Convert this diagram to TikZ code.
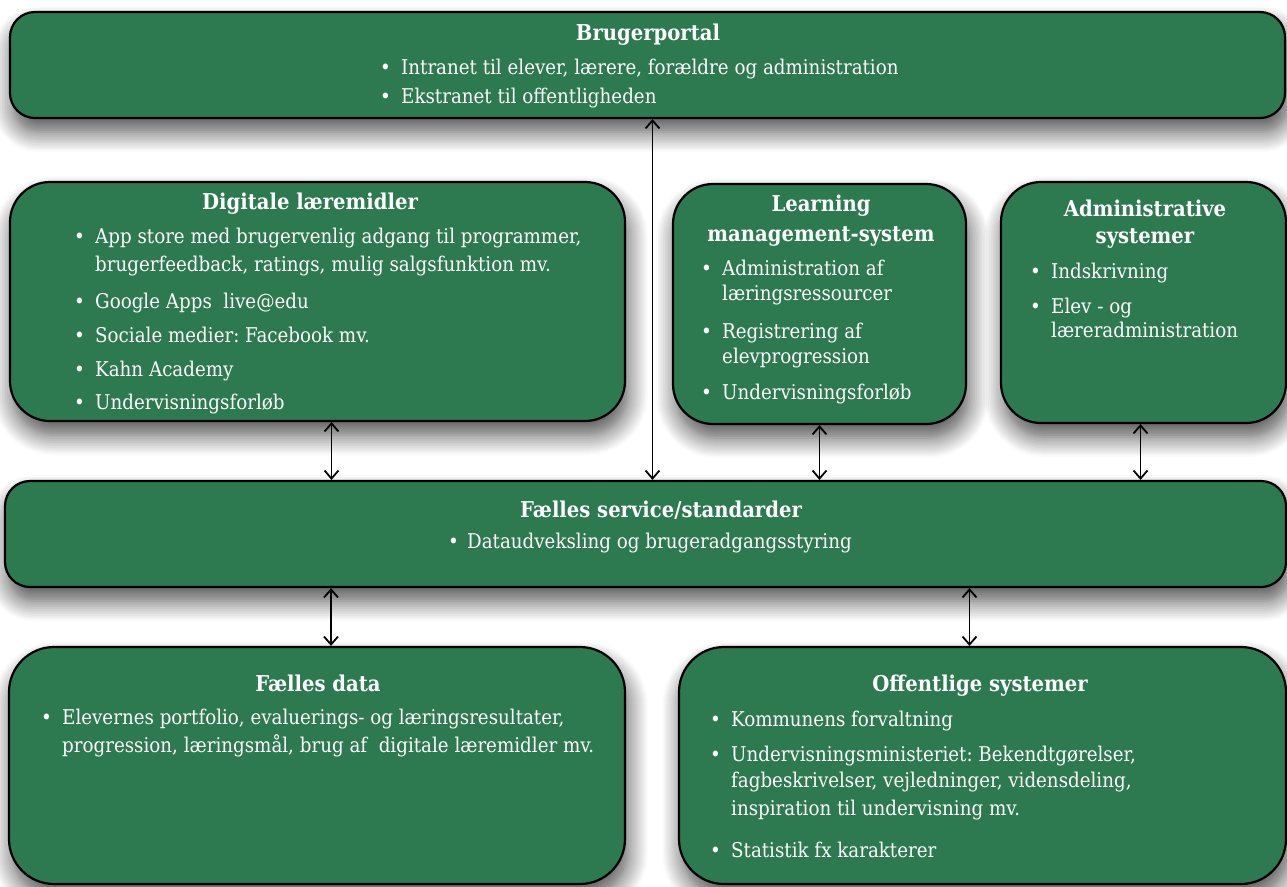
\documentclass[tikz,border=0pt]{standalone}
\usepackage{fontspec}
\setmainfont{DejaVu Serif Condensed}
\usetikzlibrary{fit,shadows.blur,arrows.meta}
\frenchspacing

\definecolor{boksgroen}{RGB}{46,122,80}
\newcommand\pkt{\makebox[21pt][l]{\textbullet}}
\newcommand\fort{\hspace*{21pt}}

\tikzset{
  boks/.style={draw=black, line width=2.2pt, fill=boksgroen, inner sep=0pt,
    rounded corners=40pt,
    blur shadow={shadow xshift=3pt, shadow yshift=-14pt, shadow blur radius=20pt,
      shadow blur steps=12, shadow opacity=70}},
  titel/.style={text=white, inner sep=0pt, text height=18pt, text depth=3pt,
    font=\bfseries\fontsize{21.8}{26}\selectfont},
  linje/.style={text=white, anchor=west, inner sep=0pt, text height=16pt, text depth=4pt,
    font=\fontsize{20.3}{24}\selectfont},
  pil/.style={<->, >={Straight Barb[length=8pt,width=14pt,line width=1.8pt]}, line width=1.8pt},
}

\begin{document}
\begin{tikzpicture}[x=1pt,y=-1pt]
  \useasboundingbox (0,0) rectangle (1287,886);

  % Brugerportal
  \node[boks, rounded corners=25pt, fit={(10,12) (1285,118)}] (portal) {};
  \node[titel] (portalT) at (648,33) {Brugerportal};
  \node[linje] (portal1) at (380,68) {\pkt Intranet til elever, lærere, forældre og administration};
  \node[linje] (portal2) at ([shift={(0,29)}] portal1.west) {\pkt Ekstranet til offentligheden};

  % Digitale læremidler
  \node[boks, fit={(10,182) (625,421)}] (digital) {};
  \node[titel] (digitalT) at (310,202) {Digitale læremidler};
  \node[linje] (digital1) at (74,237) {\pkt App store med brugervenlig adgang til programmer,};
  \node[linje] (digital2) at ([shift={(0,28)}] digital1.west) {\fort brugerfeedback, ratings, mulig salgsfunktion mv.};
  \node[linje] (digital3) at ([shift={(0,37)}] digital2.west) {\pkt Google Apps\ \ live@edu};
  \node[linje] (digital4) at ([shift={(0,34)}] digital3.west) {\pkt Sociale medier: Facebook mv.};
  \node[linje] (digital5) at ([shift={(0,34)}] digital4.west) {\pkt Kahn Academy};
  \node[linje] (digital6) at ([shift={(0,33)}] digital5.west) {\pkt Undervisningsforløb};

  % Learning management-system
  \node[boks, fit={(673,184) (966,424)}] (lms) {};
  \node[titel] (lmsT1) at (821,204) {Learning};
  \node[titel] (lmsT2) at ([shift={(0,30)}] lmsT1) {management-system};
  \node[linje] (lms1) at (701,269) {\pkt Administration af};
  \node[linje] (lms2) at ([shift={(0,25)}] lms1.west) {\fort læringsressourcer};
  \node[linje] (lms3) at ([shift={(0,38)}] lms2.west) {\pkt Registrering af};
  \node[linje] (lms4) at ([shift={(0,25)}] lms3.west) {\fort elevprogression};
  \node[linje] (lms5) at ([shift={(0,36)}] lms4.west) {\pkt Undervisningsforløb};

  % Administrative systemer
  \node[boks, fit={(1001,182) (1286,423)}] (admin) {};
  \node[titel] (adminT1) at (1145,209) {Administrative};
  \node[titel] (adminT2) at ([shift={(0,27)}] adminT1) {systemer};
  \node[linje] (admin1) at (1030,272) {\pkt Indskrivning};
  \node[linje] (admin2) at ([shift={(0,35)}] admin1.west) {\pkt Elev - og};
  \node[linje] (admin3) at ([shift={(0,24)}] admin2.west) {\fort læreradministration};

  % Fælles service/standarder
  \node[boks, rounded corners=25pt, fit={(5,481) (1286,587)}] (service) {};
  \node[titel] (serviceT) at (661,510) {Fælles service/standarder};
  \node[linje] (service1) at (448,542) {\makebox[19pt][l]{\textbullet}Dataudveksling og brugeradgangsstyring};

  % Fælles data
  \node[boks, rounded corners=45pt, fit={(9,647) (625,884)}] (data) {};
  \node[titel] (dataT) at (318,684) {Fælles data};
  \node[linje] (data1) at (41,718) {\pkt Elevernes portfolio, evaluerings- og læringsresultater,};
  \node[linje] (data2) at ([shift={(0,28)}] data1.west) {\fort progression, læringsmål, brug af\ \ digitale læremidler mv.};

  % Offentlige systemer
  \node[boks, rounded corners=45pt, fit={(679,647) (1286,884)}] (offentlig) {};
  \node[titel] (offentligT) at (980,684) {Offentlige systemer};
  \node[linje] (offentlig1) at (710,720) {\pkt Kommunens forvaltning};
  \node[linje] (offentlig2) at ([shift={(0,35)}] offentlig1.west) {\pkt Undervisningsministeriet: Bekendtgørelser,};
  \node[linje] (offentlig3) at ([shift={(0,26)}] offentlig2.west) {\fort fagbeskrivelser, vejledninger, vidensdeling,};
  \node[linje] (offentlig4) at ([shift={(0,28)}] offentlig3.west) {\fort inspiration til undervisning mv.};
  \node[linje] (offentlig5) at ([shift={(0,42)}] offentlig4.west) {\pkt Statistik fx karakterer};

  % forbindelser
  \draw[pil] ([xshift=5pt]portal.south)   -- ([xshift=5pt]portal.south |- service.north);
  \draw[pil] ([xshift=14pt]digital.south) -- ([xshift=14pt]digital.south |- service.north);
  \draw[pil] (lms.south)                  -- (lms.south |- service.north);
  \draw[pil] ([xshift=-3pt]admin.south)   -- ([xshift=-3pt]admin.south |- service.north);
  \draw[pil] ([xshift=14pt]data.north)    -- ([xshift=14pt]data.north |- service.south);
  \draw[pil] ([xshift=-13pt]offentlig.north) -- ([xshift=-13pt]offentlig.north |- service.south);
\end{tikzpicture}
\end{document}
